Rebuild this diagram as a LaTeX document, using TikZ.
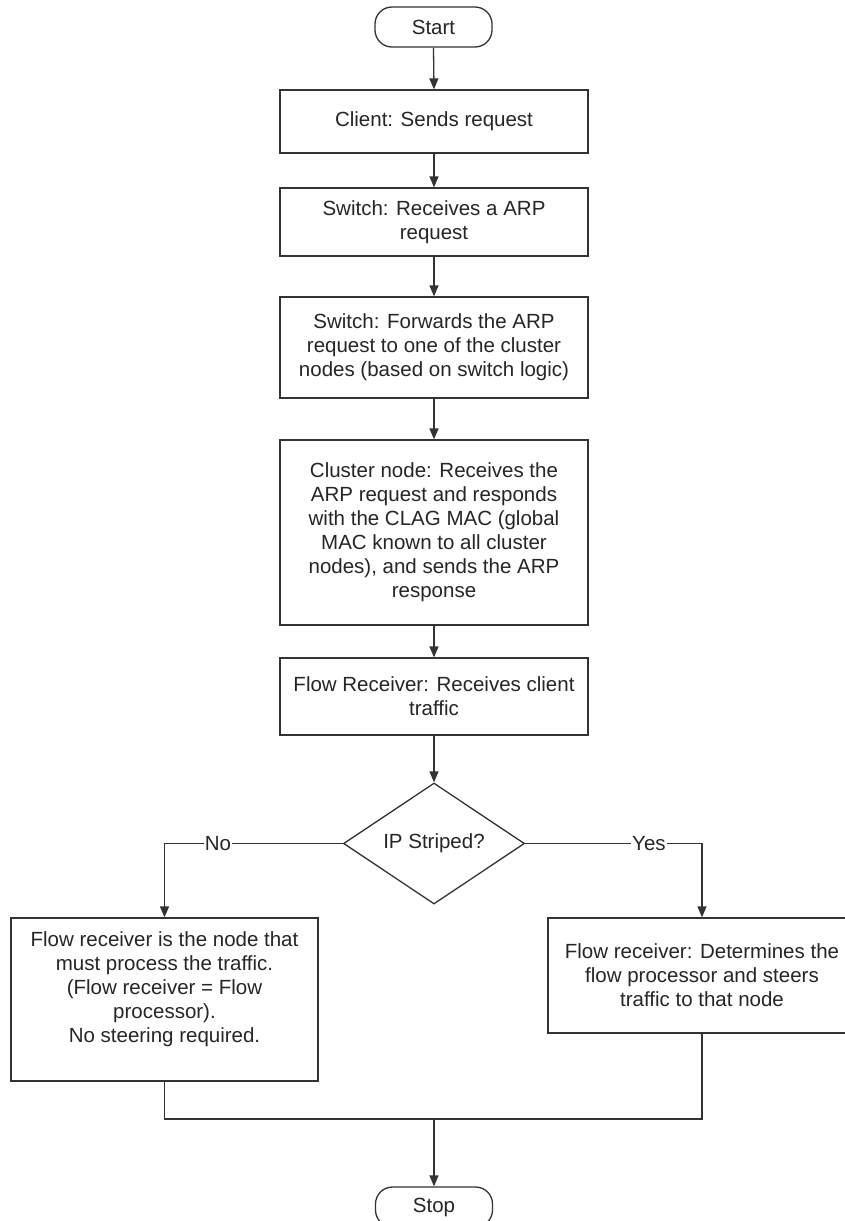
\documentclass[tikz,border=0pt]{standalone}
\usepackage{fontspec}
\setmainfont{Liberation Sans}
\usetikzlibrary{arrows.meta,shapes.geometric}
\definecolor{ln}{HTML}{333333}
\definecolor{tx}{HTML}{262626}
\begin{document}
\begin{tikzpicture}[x=1pt,y=-1pt,
  every node/.style={font=\fontsize{20.5}{24}\selectfont, text=tx},
  box/.style={draw=ln, line width=1.3pt, rectangle, align=center, inner sep=0pt, minimum width=308pt},
  term/.style={draw=ln, line width=1.3pt, rectangle, rounded corners=17pt, inner sep=0pt, minimum width=117pt, minimum height=40pt},
  decision/.style={draw=ln, line width=1.3pt, diamond, inner sep=0pt, minimum width=181pt, minimum height=121pt},
  conn/.style={draw=ln, line width=1.3pt},
  arr/.style={conn, -{Triangle[length=11pt,width=9pt]}},
  lbl/.style={fill=white, inner sep=1pt}]
\useasboundingbox (0,0) rectangle (845,1221);
\fill[white] (0,0) rectangle (845,1221);

\node[term] (start) at (433.5,27) {Start};
\node[box, minimum height=63pt] (client) at (434,121.5) {Client: Sends request};
\node[box, minimum height=68pt] (switch) at (434,222) {Switch: Receives a ARP\\request};
\node[box, minimum height=101pt] (fwd) at (434,347.5) {Switch: Forwards the ARP\\request to one of the cluster\\nodes (based on switch logic)};
\node[box, minimum height=185pt] (cluster) at (434,532.5) {Cluster node: Receives the\\ARP request and responds\\with the CLAG MAC (global\\MAC known to all cluster\\nodes), and sends the ARP\\response};
\node[box, minimum height=77pt] (recv) at (434,696.5) {Flow Receiver: Receives client\\traffic};
\node[decision] (dec) at (434,843.5) {IP Striped?};
\node[box, minimum width=307pt, minimum height=163pt] (left) at (164.5,999.5) {Flow receiver is the node that\\must process the traffic.\\(Flow receiver = Flow\\processor).\\No steering required.\\~};
\node[box, minimum height=115pt] (right) at (702,975.5) {Flow receiver: Determines the\\flow processor and steers\\traffic to that node};
\node[term] (stop) at (434,1207) {Stop};
\coordinate (merge) at (434,1119);

\draw[arr] (start.south) -- (client.north);
\draw[arr] (client.south) -- (switch.north);
\draw[arr] (switch.south) -- (fwd.north);
\draw[arr] (fwd.south) -- (cluster.north);
\draw[arr] (cluster.south) -- (recv.north);
\draw[arr] (recv.south) -- (dec.north);
\draw[arr] (dec.west) -| node[lbl, pos=0.35] {No} (left.north);
\draw[arr] (dec.east) -| node[lbl, pos=0.35] {Yes} (right.north);
\draw[conn] (left.south) |- (merge) -| (right.south);
\draw[arr] (merge) -- (stop.north);
\end{tikzpicture}
\end{document}
